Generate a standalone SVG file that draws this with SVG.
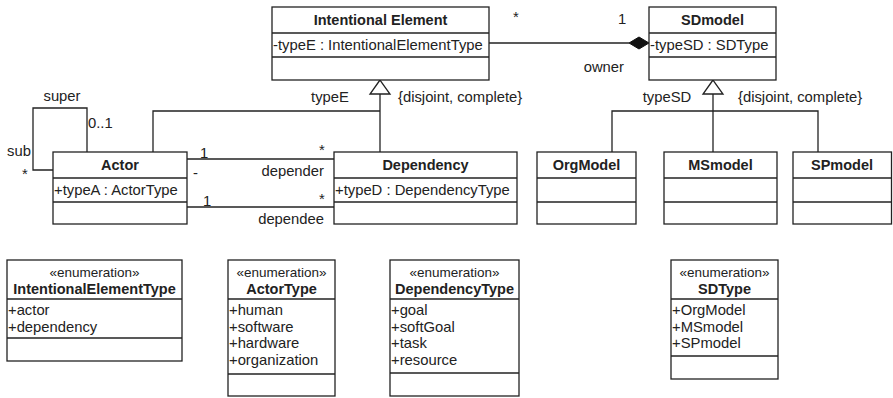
<svg xmlns="http://www.w3.org/2000/svg" width="893" height="398" viewBox="0 0 893 398">
<style>
rect.b{fill:#fff;stroke:#222;stroke-width:1.3}
line.d,path.c{stroke:#222;stroke-width:1.3;fill:none}
text{font-family:"Liberation Sans",Arial,sans-serif;font-size:14.8px;fill:#222}
.h{font-weight:bold;font-size:14.5px;text-anchor:middle}
.m{text-anchor:middle}
.s{font-size:13.5px;text-anchor:middle}
.e{text-anchor:end}
</style>

<g id="connectors">
<!-- IE generalization -->
<path class="c" d="M380,94 L380,152"/>
<path class="c" d="M380,111 L153,111 L153,152"/>
<polygon points="380,80 370,94 390,94" fill="#fff" stroke="#222" stroke-width="1.3"/>
<text x="330" y="102" class="m">typeE</text>
<text x="398" y="102">{disjoint, complete}</text>
<!-- SD generalization -->
<path class="c" d="M713,94 L713,152"/>
<path class="c" d="M612,152 L612,111 L818,111 L818,152"/>
<polygon points="713,80 703,94 723,94" fill="#fff" stroke="#222" stroke-width="1.3"/>
<text x="667" y="102" class="m">typeSD</text>
<text x="738" y="102">{disjoint, complete}</text>
<!-- composition -->
<path class="c" d="M489,43 L629,43"/>
<polygon points="629,43 639,37 649,43 639,49" fill="#111" stroke="#111" stroke-width="1"/>
<text x="516" y="22" class="m">*</text>
<text x="622" y="24" class="m">1</text>
<text x="624" y="72" class="e">owner</text>
<!-- self association -->
<path class="c" d="M53,170 L33,170 L33,108 L87,108 L87,152"/>
<text x="62" y="101" class="m">super</text>
<text x="88" y="128">0..1</text>
<text x="7" y="156">sub</text>
<text x="25" y="179" class="m">*</text>
<!-- depender -->
<path class="c" d="M187,159 L334,159"/>
<text x="200" y="158">1</text>
<text x="193" y="178">-</text>
<text x="322" y="155" class="m">*</text>
<text x="324" y="176" class="e">depender</text>
<!-- dependee -->
<path class="c" d="M187,207 L334,207"/>
<text x="203" y="206">1</text>
<text x="322" y="204" class="m">*</text>
<text x="324" y="224" class="e">dependee</text>
</g>

<g id="intentional-element">
<rect class="b" x="272" y="7" width="217" height="73"/>
<line class="d" x1="272" y1="33" x2="489" y2="33"/>
<line class="d" x1="272" y1="57" x2="489" y2="57"/>
<text x="380.5" y="25" class="h">Intentional Element</text>
<text x="273" y="50">-typeE : IntentionalElementType</text>
</g>

<g id="sdmodel">
<rect class="b" x="649" y="7" width="127" height="73"/>
<line class="d" x1="649" y1="33" x2="776" y2="33"/>
<line class="d" x1="649" y1="57" x2="776" y2="57"/>
<text x="712.5" y="25" class="h">SDmodel</text>
<text x="650" y="50">-typeSD : SDType</text>
</g>

<g id="actor">
<rect class="b" x="53" y="152" width="134" height="72"/>
<line class="d" x1="53" y1="178" x2="187" y2="178"/>
<line class="d" x1="53" y1="202" x2="187" y2="202"/>
<text x="120" y="170" class="h">Actor</text>
<text x="54" y="195">+typeA : ActorType</text>
</g>

<g id="dependency">
<rect class="b" x="334" y="152" width="183" height="72"/>
<line class="d" x1="334" y1="178" x2="517" y2="178"/>
<line class="d" x1="334" y1="202" x2="517" y2="202"/>
<text x="425.5" y="170" class="h">Dependency</text>
<text x="335" y="195">+typeD : DependencyType</text>
</g>

<g id="orgmodel">
<rect class="b" x="537" y="152" width="99" height="72"/>
<line class="d" x1="537" y1="178" x2="636" y2="178"/>
<line class="d" x1="537" y1="202" x2="636" y2="202"/>
<text x="586.5" y="170" class="h">OrgModel</text>
</g>

<g id="msmodel">
<rect class="b" x="664" y="152" width="113" height="72"/>
<line class="d" x1="664" y1="178" x2="777" y2="178"/>
<line class="d" x1="664" y1="202" x2="777" y2="202"/>
<text x="720.5" y="170" class="h">MSmodel</text>
</g>

<g id="spmodel">
<rect class="b" x="793" y="152" width="98.5" height="72"/>
<line class="d" x1="793" y1="178" x2="891.5" y2="178"/>
<line class="d" x1="793" y1="202" x2="891.5" y2="202"/>
<text x="842" y="170" class="h">SPmodel</text>
</g>

<g id="intentional-element-type">
<rect class="b" x="7" y="260" width="175" height="101"/>
<line class="d" x1="7" y1="299" x2="182" y2="299"/>
<line class="d" x1="7" y1="338" x2="182" y2="338"/>
<text x="94.5" y="277" class="s">«enumeration»</text>
<text x="94.5" y="294" class="h">IntentionalElementType</text>
<text x="8" y="315">+actor</text>
<text x="8" y="332">+dependency</text>
</g>

<g id="actor-type">
<rect class="b" x="228" y="260" width="107" height="136"/>
<line class="d" x1="228" y1="299" x2="335" y2="299"/>
<line class="d" x1="228" y1="374" x2="335" y2="374"/>
<text x="281.5" y="277" class="s">«enumeration»</text>
<text x="281.5" y="294" class="h">ActorType</text>
<text x="229" y="315">+human</text>
<text x="229" y="332">+software</text>
<text x="229" y="348">+hardware</text>
<text x="229" y="365">+organization</text>
</g>

<g id="dependency-type">
<rect class="b" x="390" y="260" width="129" height="136"/>
<line class="d" x1="390" y1="299" x2="519" y2="299"/>
<line class="d" x1="390" y1="373" x2="519" y2="373"/>
<text x="454.5" y="277" class="s">«enumeration»</text>
<text x="454.5" y="294" class="h">DependencyType</text>
<text x="391" y="315">+goal</text>
<text x="391" y="332">+softGoal</text>
<text x="391" y="348">+task</text>
<text x="391" y="365">+resource</text>
</g>

<g id="sd-type">
<rect class="b" x="671" y="260" width="107" height="119"/>
<line class="d" x1="671" y1="299" x2="778" y2="299"/>
<line class="d" x1="671" y1="356" x2="778" y2="356"/>
<text x="724.5" y="277" class="s">«enumeration»</text>
<text x="724.5" y="294" class="h">SDType</text>
<text x="672" y="315">+OrgModel</text>
<text x="672" y="332">+MSmodel</text>
<text x="672" y="348">+SPmodel</text>
</g>
</svg>
